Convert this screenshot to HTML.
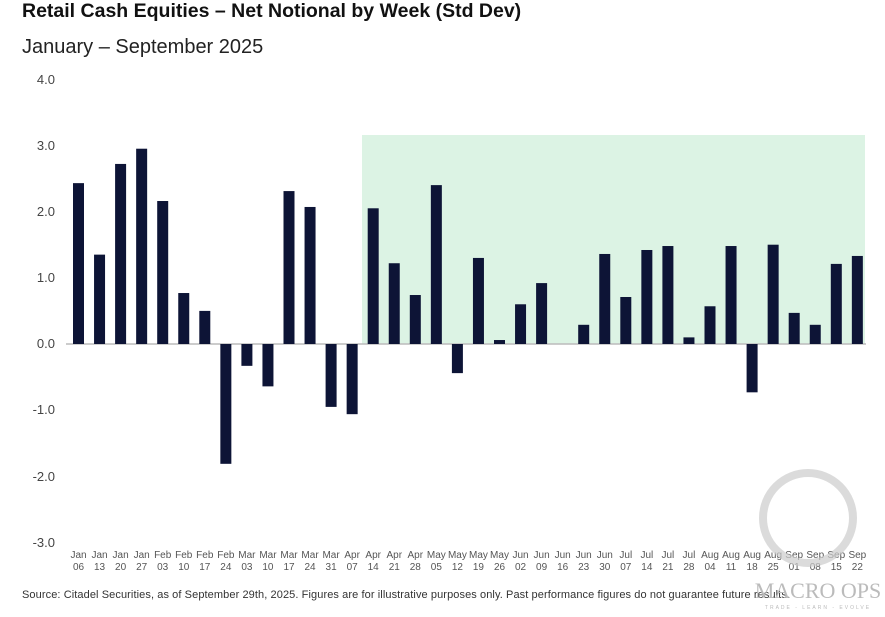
<!DOCTYPE html>
<html><head><meta charset="utf-8"><style>
body{margin:0;background:#fff;width:885px;height:612px;overflow:hidden;font-family:"Liberation Sans",sans-serif}
</style></head><body>
<svg width="885" height="612" xmlns="http://www.w3.org/2000/svg" font-family="Liberation Sans, sans-serif">
<text x="22" y="17" font-size="19.5" font-weight="bold" fill="#111">Retail Cash Equities – Net Notional by Week (Std Dev)</text>
<text x="22" y="53" font-size="20" fill="#222">January – September 2025</text>
<rect x="362" y="135" width="503" height="209" fill="#dcf3e4"/>
<g font-size="13" fill="#444" text-anchor="end">
<text x="55" y="84">4.0</text><text x="55" y="150">3.0</text><text x="55" y="216">2.0</text><text x="55" y="282">1.0</text><text x="55" y="348">0.0</text><text x="55" y="414">-1.0</text><text x="55" y="481">-2.0</text><text x="55" y="547">-3.0</text>
</g>
<line x1="66" y1="344" x2="866" y2="344" stroke="#bbb" stroke-width="1.5"/>
<g id="bars" fill="#0d1436"></g>
<g id="labels" font-size="10" fill="#555" text-anchor="middle"></g>
<text x="22" y="598" font-size="11" fill="#333" textLength="768">Source: Citadel Securities, as of September 29th, 2025. Figures are for illustrative purposes only. Past performance figures do not guarantee future results.</text>
<circle cx="808" cy="518" r="45" fill="none" stroke="#ccc" stroke-width="8" opacity="0.7"/>
<text x="818" y="598" font-size="22" font-family="Liberation Serif, serif" fill="#bbb" text-anchor="middle">MACRO OPS</text>
<text x="818" y="609" font-size="5" fill="#bbb" text-anchor="middle" letter-spacing="2">TRADE - LEARN - EVOLVE</text>
</svg>
<script>
var v=[2.43,1.35,2.72,2.95,2.16,0.77,0.5,-1.81,-0.33,-0.64,2.31,2.07,-0.95,-1.06,2.05,1.22,0.74,2.40,-0.44,1.30,0.06,0.6,0.92,0,0.29,1.36,0.71,1.42,1.48,0.1,0.57,1.48,-0.73,1.5,0.47,0.29,1.21,1.33];
var l=["Jan 06","Jan 13","Jan 20","Jan 27","Feb 03","Feb 10","Feb 17","Feb 24","Mar 03","Mar 10","Mar 17","Mar 24","Mar 31","Apr 07","Apr 14","Apr 21","Apr 28","May 05","May 12","May 19","May 26","Jun 02","Jun 09","Jun 16","Jun 23","Jun 30","Jul 07","Jul 14","Jul 21","Jul 28","Aug 04","Aug 11","Aug 18","Aug 25","Sep 01","Sep 08","Sep 15","Sep 22"];
var ns="http://www.w3.org/2000/svg",b=document.getElementById("bars"),g=document.getElementById("labels");
for(var i=0;i<v.length;i++){var cx=78.5+i*21.05,h=Math.abs(v[i])*66.2;
var r=document.createElementNS(ns,"rect");r.setAttribute("x",cx-5.5);r.setAttribute("width",11);
r.setAttribute("y",v[i]>=0?344-h:344);r.setAttribute("height",h);b.appendChild(r);
var p=l[i].split(" ");for(var k=0;k<2;k++){var t=document.createElementNS(ns,"text");t.setAttribute("x",cx);t.setAttribute("y",558+k*12);t.textContent=p[k];g.appendChild(t);}}
</script>
</body></html>
